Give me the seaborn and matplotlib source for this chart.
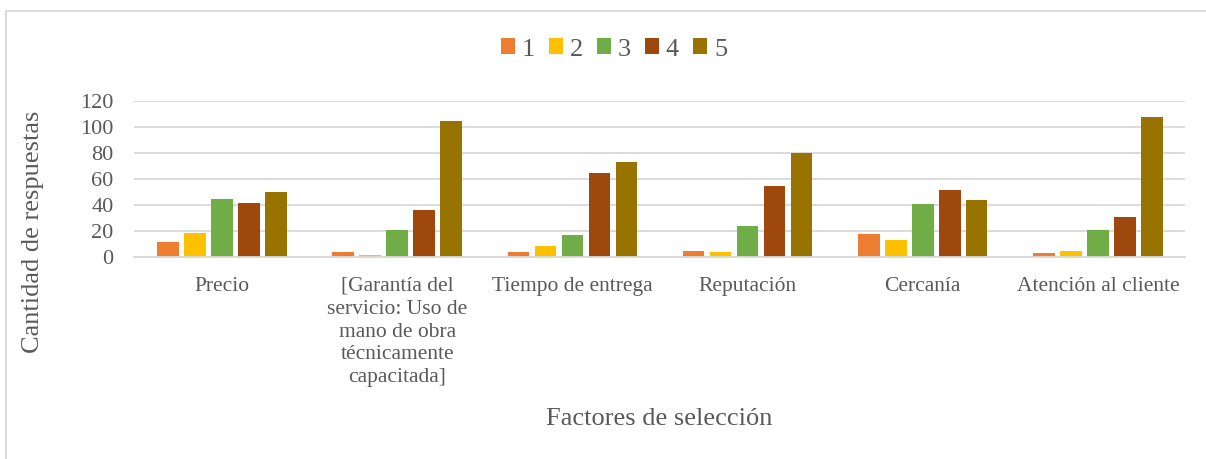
import matplotlib
matplotlib.use("Agg")
import matplotlib.pyplot as plt
import seaborn as sns
import pandas as pd
from matplotlib.patches import Rectangle

# Survey results: number of answers per rating (1-5) for each selection factor
factores = [
    "Precio",
    "[Garantía del\nservicio: Uso de\nmano de obra\ntécnicamente\ncapacitada]",
    "Tiempo de entrega",
    "Reputación",
    "Cercanía",
    "Atención al cliente",
]
puntuaciones = ["1", "2", "3", "4", "5"]
resp_1 = [12, 4, 4, 5, 18, 3]
resp_2 = [19, 2, 9, 4, 13, 5]
resp_3 = [45, 21, 17, 24, 41, 21]
resp_4 = [42, 36, 65, 55, 52, 31]
resp_5 = [50, 105, 73, 80, 44, 108]
colores = ["#ED7D31", "#FFC000", "#70AD47", "#9E480E", "#997300"]
yticks = [0, 20, 40, 60, 80, 100, 120]

series = [resp_1, resp_2, resp_3, resp_4, resp_5]
rows = []
for p, vals in zip(puntuaciones, series):
    for f, v in zip(factores, vals):
        rows.append({"Factor": f, "Puntuación": p, "Respuestas": v})
df = pd.DataFrame(rows)

sns.set_theme(style="white")
plt.rcParams["font.family"] = ["Liberation Serif", "DejaVu Serif"]
texto = "#595959"
grid = "#D9D9D9"

fig = plt.figure(figsize=(12.06, 4.59), dpi=100)
ax = fig.add_axes([0.1115, 0.4395, 0.8715, 0.34])

sns.barplot(data=df, x="Factor", y="Respuestas", hue="Puntuación",
            order=factores, hue_order=puntuaciones, palette=colores,
            width=0.77, gap=0.2, saturation=1, ax=ax, legend=False,
            linewidth=0)

ax.set_ylim(0, 120)
ax.set_yticks(yticks)
ax.set_yticklabels([str(t) for t in yticks], fontsize=16, color=texto)
ax.tick_params(axis="x", labelsize=15.5, colors=texto, length=0, pad=14)
ax.tick_params(axis="y", length=0, pad=15)
for lbl in ax.get_xticklabels():
    lbl.set_linespacing(1.28)
    lbl.set_color(texto)
ax.set_xlim(-0.5, len(factores) - 0.5)
ax.yaxis.grid(True, color=grid, linewidth=1.3)
ax.set_axisbelow(True)
for s in ["top", "right", "left"]:
    ax.spines[s].set_visible(False)
ax.spines["bottom"].set_color(grid)
ax.spines["bottom"].set_linewidth(1.3)

ax.set_xlabel("")
ax.set_ylabel("")
fig.text(0.547, 0.088, "Factores de selección", ha="center", va="center",
         fontsize=19, color=texto)
fig.text(0.027, 0.495, "Cantidad de respuestas", ha="center", va="center",
         rotation=90, fontsize=19, color=texto)

handles = [Rectangle((0, 0), 1, 1, facecolor=c, edgecolor="none") for c in colores]
fig.legend(handles, puntuaciones, loc="center", bbox_to_anchor=(0.509, 0.892),
           ncol=5, frameon=False, fontsize=19, handlelength=0.55,
           handleheight=0.55, handletextpad=0.25, columnspacing=0.52,
           labelcolor=texto)

# light frame around the chart area
fig.patches.append(Rectangle((6 / 1206, -0.1), 1.2, 1 - 11 / 459 + 0.1,
                             transform=fig.transFigure, fill=False,
                             edgecolor="#D9D9D9", linewidth=1.3))

fig.savefig("out.png", dpi=100, facecolor="white")
